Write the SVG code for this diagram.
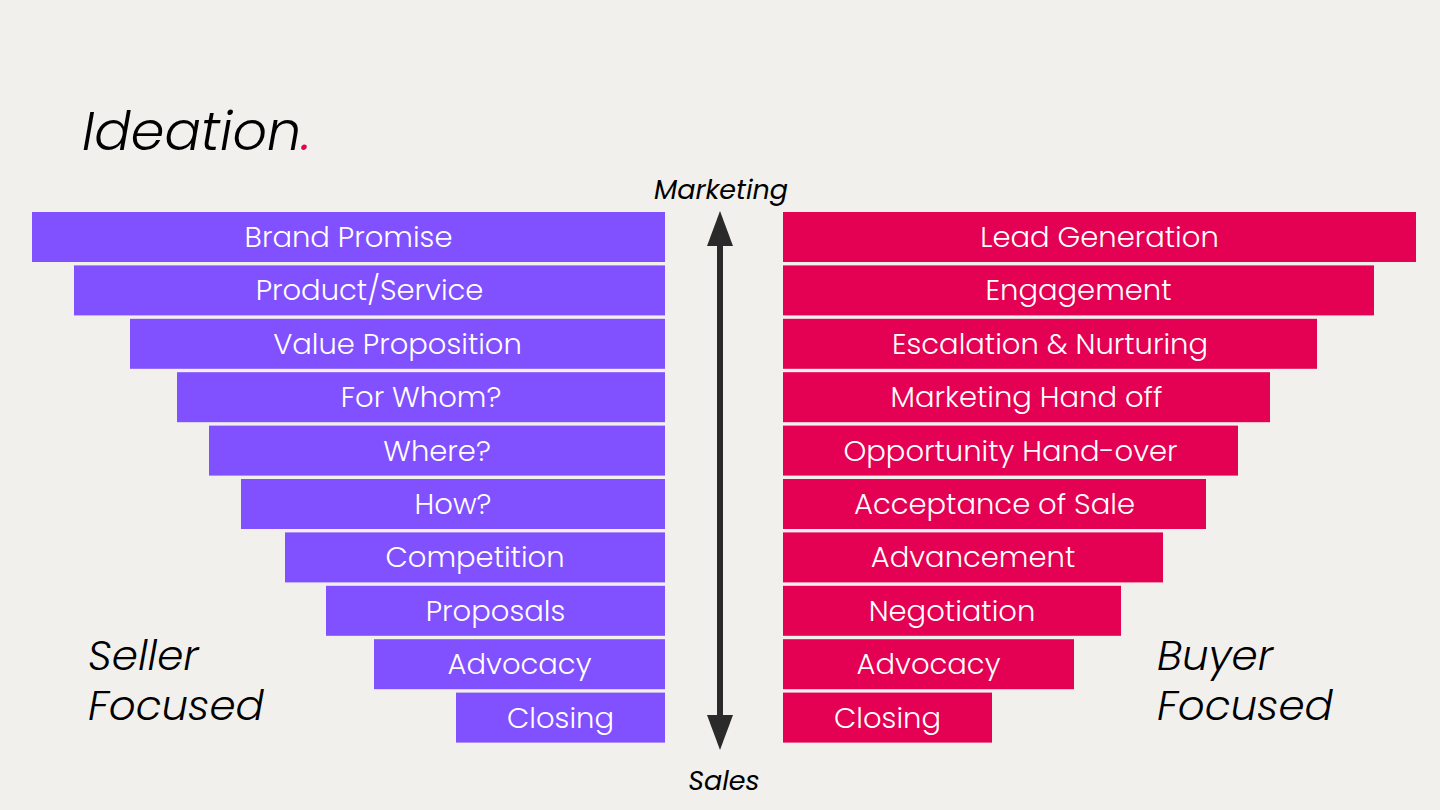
<svg xmlns="http://www.w3.org/2000/svg" width="1440" height="810" viewBox="0 0 1440 810">
<defs>
<style>
.bg{fill:#f2f0ed}
.lbar{fill:#8150ff}
.rbar{fill:#e40052}
.bt{font-family:"Poppins","Open Sans","Noto Sans",sans-serif;font-weight:300;font-size:29px;fill:#ffffff;text-anchor:middle}
.it{font-family:"Poppins","Open Sans","Noto Sans",sans-serif;font-style:italic;fill:#000000}
</style>
</defs>
<rect class="bg" x="0" y="0" width="1440" height="810"/>
<text class="it" x="82" y="150" font-size="54" font-weight="300">Ideation<tspan fill="#e40052">.</tspan></text>
<text class="it" x="721" y="199" font-size="27" text-anchor="middle">Marketing</text>
<text class="it" x="724" y="790" font-size="27" text-anchor="middle">Sales</text>
<text class="it" font-size="42" font-weight="300"><tspan x="88" y="670">Seller</tspan><tspan x="88" y="720">Focused</tspan></text>
<text class="it" font-size="42" font-weight="300"><tspan x="1157" y="670">Buyer</tspan><tspan x="1157" y="720">Focused</tspan></text>
<g id="connectors">
<line x1="720" y1="246" x2="720" y2="715" stroke="#2a2a2a" stroke-width="6"/>
<path d="M720,211 L733,246 L707,246 z" fill="#2a2a2a"/>
<path d="M720,750 L733,715 L707,715 z" fill="#2a2a2a"/>
</g>
<g id="l1"><rect class="lbar" x="32" y="212" width="633" height="50"/><text class="bt" x="348.5" y="247">Brand Promise</text></g>
<g id="l2"><rect class="lbar" x="74" y="265.4" width="591" height="50"/><text class="bt" x="369.5" y="300.4">Product/Service</text></g>
<g id="l3"><rect class="lbar" x="130" y="318.8" width="535" height="50"/><text class="bt" x="397.5" y="353.8">Value Proposition</text></g>
<g id="l4"><rect class="lbar" x="177" y="372.2" width="488" height="50"/><text class="bt" x="421" y="407.2">For Whom?</text></g>
<g id="l5"><rect class="lbar" x="209" y="425.6" width="456" height="50"/><text class="bt" x="437" y="460.6">Where?</text></g>
<g id="l6"><rect class="lbar" x="241" y="479" width="424" height="50"/><text class="bt" x="453" y="514">How?</text></g>
<g id="l7"><rect class="lbar" x="285" y="532.4" width="380" height="50"/><text class="bt" x="475" y="567.4">Competition</text></g>
<g id="l8"><rect class="lbar" x="326" y="585.8" width="339" height="50"/><text class="bt" x="495.5" y="620.8">Proposals</text></g>
<g id="l9"><rect class="lbar" x="374" y="639.2" width="291" height="50"/><text class="bt" x="519.5" y="674.2">Advocacy</text></g>
<g id="l10"><rect class="lbar" x="456" y="692.6" width="209" height="50"/><text class="bt" x="560.5" y="727.6">Closing</text></g>
<g id="r1"><rect class="rbar" x="783" y="212" width="633" height="50"/><text class="bt" x="1099.5" y="247">Lead Generation</text></g>
<g id="r2"><rect class="rbar" x="783" y="265.4" width="591" height="50"/><text class="bt" x="1078.5" y="300.4">Engagement</text></g>
<g id="r3"><rect class="rbar" x="783" y="318.8" width="534" height="50"/><text class="bt" x="1050" y="353.8">Escalation &amp; Nurturing</text></g>
<g id="r4"><rect class="rbar" x="783" y="372.2" width="487" height="50"/><text class="bt" x="1026.5" y="407.2">Marketing Hand off</text></g>
<g id="r5"><rect class="rbar" x="783" y="425.6" width="455" height="50"/><text class="bt" x="1010.5" y="460.6">Opportunity Hand-over</text></g>
<g id="r6"><rect class="rbar" x="783" y="479" width="423" height="50"/><text class="bt" x="994.5" y="514">Acceptance of Sale</text></g>
<g id="r7"><rect class="rbar" x="783" y="532.4" width="380" height="50"/><text class="bt" x="973" y="567.4">Advancement</text></g>
<g id="r8"><rect class="rbar" x="783" y="585.8" width="338" height="50"/><text class="bt" x="952" y="620.8">Negotiation</text></g>
<g id="r9"><rect class="rbar" x="783" y="639.2" width="291" height="50"/><text class="bt" x="928.5" y="674.2">Advocacy</text></g>
<g id="r10"><rect class="rbar" x="783" y="692.6" width="209" height="50"/><text class="bt" x="887.5" y="727.6">Closing</text></g>
</svg>
